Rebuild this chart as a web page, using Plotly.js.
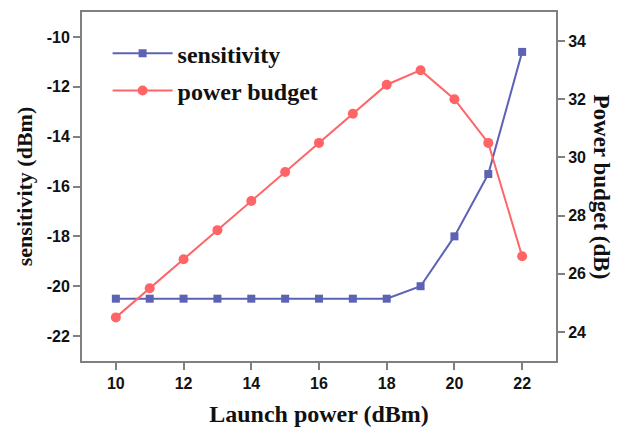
<!DOCTYPE html>
<html><head><meta charset="utf-8">
<script src="https://cdn.plot.ly/plotly-3.0.1.min.js"></script>
<style>html,body{margin:0;padding:0;background:#fff}#chart{width:624px;height:430px}</style>
</head><body><div id="chart"></div>
<script>
const launchPower = [10,11,12,13,14,15,16,17,18,19,20,21,22];
const sensitivity = [-20.5,-20.5,-20.5,-20.5,-20.5,-20.5,-20.5,-20.5,-20.5,-20,-18,-15.5,-10.6];
const powerBudget = [24.5,25.5,26.5,27.5,28.5,29.5,30.5,31.5,32.5,33,32,30.5,26.6];
const xTicks = [10,12,14,16,18,20,22];
const yTicks = [-22,-20,-18,-16,-14,-12,-10];
const yTickText = ['-22','-20','-18','-16','-14','-12','-10'];
const y2Ticks = [24,26,28,30,32,34];

const blue = '#5c62b4', red = '#ff6466', gray = '#808080';
const serif = 'Liberation Serif, Times New Roman, serif';
const tickFont = {family:'Liberation Sans, Arial, sans-serif', size:16, color:'#111', weight:700};

const traces = [
 {x:launchPower, y:sensitivity, name:'sensitivity', mode:'lines+markers', legendgroup:'a',
  line:{color:blue,width:2}, marker:{symbol:'square', size:8, color:blue}},
 {x:launchPower, y:powerBudget, name:'power budget', mode:'lines+markers', yaxis:'y2', legendgroup:'b',
  line:{color:red,width:2}, marker:{symbol:'circle', size:10, color:red}}
];
const axBase = {showgrid:false, zeroline:false, showline:true, linecolor:gray, linewidth:2,
  ticks:'outside', ticklen:7, tickwidth:2, tickcolor:gray, tickfont:tickFont};
const layout = {
  width:624, height:430, margin:{l:82, r:68, t:12, b:69},
  paper_bgcolor:'#fff', plot_bgcolor:'#fff',
  xaxis:Object.assign({}, axBase, {range:[9,23], tickvals:xTicks, mirror:true,
    title:{text:'Launch power (dBm)', font:{family:serif, size:24, color:'#111', weight:700}, standoff:14}}),
  yaxis:Object.assign({}, axBase, {range:[-23,-9], tickvals:yTicks, ticktext:yTickText,
    title:{text:'sensitivity (dBm)', font:{family:serif, size:22, color:'#111', weight:700}, standoff:8}}),
  yaxis2:Object.assign({}, axBase, {range:[23,35], tickvals:y2Ticks, overlaying:'y', side:'right'}),
  legend:{x:0.054, y:0.945, xanchor:'left', yanchor:'top', bgcolor:'rgba(0,0,0,0)',
    font:{family:serif, size:24, color:'#111', weight:700},
    traceorder:'grouped', tracegroupgap:3, itemwidth:60},
  annotations:[{text:'Power budget (dB)', xref:'paper', yref:'paper', x:1.095, y:0.5,
    showarrow:false, textangle:90, font:{family:serif, size:23, color:'#111', weight:700},
    xanchor:'center', yanchor:'middle'}],
  showlegend:true
};
Plotly.newPlot('chart', traces, layout, {displayModeBar:false, staticPlot:true});
</script></body></html>
